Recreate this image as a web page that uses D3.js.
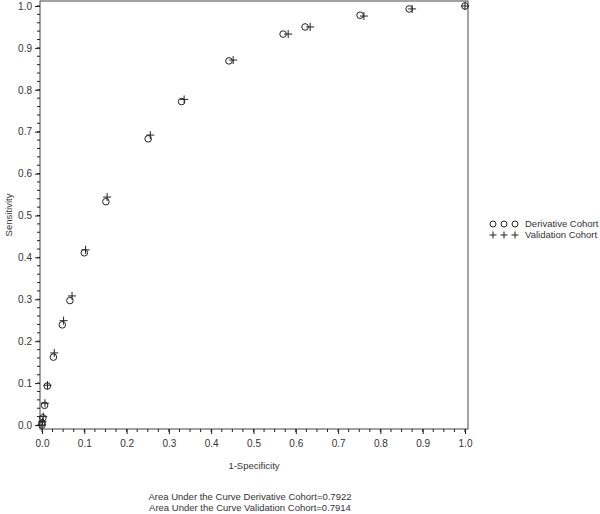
<!DOCTYPE html>
<html>
<head>
<meta charset="utf-8">
<script src="https://cdn.jsdelivr.net/npm/d3@7"></script>
<style>
  body { margin: 0; background: #fff; }
  svg { display: block; font-family: "Liberation Sans", Arial, sans-serif; }
</style>
</head>
<body>
<svg id="chart" width="600" height="514"></svg>
<script>
// ROC points
var derivX = [0, 0, 0.002, 0.006, 0.0125, 0.027, 0.048, 0.066, 0.100, 0.151, 0.251, 0.330, 0.442, 0.570, 0.622, 0.752, 0.868, 1.0];
var derivY = [0, 0.005, 0.017, 0.047, 0.093, 0.162, 0.239, 0.297, 0.411, 0.533, 0.683, 0.772, 0.869, 0.933, 0.950, 0.978, 0.993, 1.0];
var validX = [0, 0.001, 0.003, 0.007, 0.013, 0.029, 0.051, 0.071, 0.103, 0.154, 0.256, 0.336, 0.452, 0.582, 0.634, 0.761, 0.875, 1.0];
var validY = [0, 0.008, 0.020, 0.052, 0.095, 0.172, 0.249, 0.308, 0.418, 0.544, 0.692, 0.777, 0.871, 0.933, 0.950, 0.976, 0.993, 1.0];
var tickVals = [0, 0.1, 0.2, 0.3, 0.4, 0.5, 0.6, 0.7, 0.8, 0.9, 1.0];
var legendNames = ["Derivative Cohort", "Validation Cohort"];
var aucLines = ["Area Under the Curve Derivative Cohort=0.7922", "Area Under the Curve Validation Cohort=0.7914"];

var svg = d3.select("#chart");
var ink = "#222";

var frame = {left: 40, top: 1, right: 468, bottom: 429};
var xs = d3.scaleLinear().domain([0, 1]).range([42, 465]);
var ys = d3.scaleLinear().domain([0, 1]).range([425, 6]);

// frame box
svg.append("rect")
  .attr("x", frame.left).attr("y", frame.top)
  .attr("width", frame.right - frame.left).attr("height", frame.bottom - frame.top)
  .attr("fill", "none").attr("stroke", "#444").attr("stroke-width", 1);

// minor ticks
var yMinor = d3.range(0, 1.0001, 0.02);
var xMinor = d3.range(0, 1.0001, 0.025);
svg.append("g").selectAll("line").data(yMinor).enter().append("line")
  .attr("x1", frame.left - 3).attr("x2", frame.left)
  .attr("y1", function(d) { return ys(d); }).attr("y2", function(d) { return ys(d); })
  .attr("stroke", ink);
svg.append("g").selectAll("line").data(xMinor).enter().append("line")
  .attr("x1", function(d) { return xs(d); }).attr("x2", function(d) { return xs(d); })
  .attr("y1", frame.bottom).attr("y2", frame.bottom + 3)
  .attr("stroke", ink);

// y axis
var yAxis = svg.append("g")
  .attr("transform", "translate(" + frame.left + ",0)")
  .call(d3.axisLeft(ys).tickValues(tickVals).tickFormat(d3.format(".1f")).tickSize(5).tickPadding(3));
yAxis.select(".domain").remove();
// x axis
var xAxis = svg.append("g")
  .attr("transform", "translate(0," + frame.bottom + ")")
  .call(d3.axisBottom(xs).tickValues(tickVals).tickFormat(d3.format(".1f")).tickSize(5).tickPadding(6));
xAxis.select(".domain").remove();
svg.selectAll(".tick line").attr("stroke", ink);
svg.selectAll(".tick text").attr("fill", "#333").attr("font-size", "10px")
  .attr("font-family", "Liberation Sans, Arial, sans-serif");

// axis labels
svg.append("text")
  .attr("transform", "translate(9," + (frame.top + frame.bottom) / 2 + ") rotate(-90)")
  .attr("text-anchor", "middle").attr("dy", "0.35em")
  .attr("font-size", "9.5px").attr("fill", "#333")
  .text("Sensitivity");
svg.append("text")
  .attr("x", (frame.left + frame.right) / 2).attr("y", 469)
  .attr("text-anchor", "middle")
  .attr("font-size", "9.5px").attr("fill", "#333")
  .text("1-Specificity");

// derivative cohort: circles
var dData = derivX.map(function(x, i) { return {x: x, y: derivY[i]}; });
var vData = validX.map(function(x, i) { return {x: x, y: validY[i]}; });

svg.append("g").selectAll("circle").data(dData).enter().append("circle")
  .attr("cx", function(d) { return xs(d.x); })
  .attr("cy", function(d) { return ys(d.y); })
  .attr("r", 3.3)
  .attr("fill", "none").attr("stroke", ink).attr("stroke-width", 1);

// validation cohort: plus signs
var plus = d3.symbol().type(d3.symbolCross).size(0);
svg.append("g").selectAll("path").data(vData).enter().append("path")
  .attr("d", function(d) {
    var cx = xs(d.x), cy = ys(d.y), h = 4;
    return "M" + (cx - h) + "," + cy + "H" + (cx + h) + "M" + cx + "," + (cy - h) + "V" + (cy + h);
  })
  .attr("fill", "none").attr("stroke", ink).attr("stroke-width", 1);

// legend
var leg = svg.append("g");
[493, 504, 515].forEach(function(lx) {
  leg.append("circle").attr("cx", lx).attr("cy", 224).attr("r", 3)
    .attr("fill", "none").attr("stroke", ink);
  leg.append("path")
    .attr("d", "M" + (lx - 3.5) + ",235H" + (lx + 3.5) + "M" + lx + ",231.5V238.5")
    .attr("stroke", ink).attr("fill", "none");
});
leg.selectAll("text").data(legendNames).enter().append("text")
  .attr("x", 525).attr("y", function(d, i) { return 224 + i * 11; })
  .attr("dy", "0.35em")
  .attr("font-size", "9.5px").attr("fill", "#333")
  .text(function(d) { return d; });

// AUC notes
svg.append("g").selectAll("text").data(aucLines).enter().append("text")
  .attr("x", 250).attr("y", function(d, i) { return 500 + i * 11; })
  .attr("text-anchor", "middle")
  .attr("font-size", "9.5px").attr("fill", "#333")
  .text(function(d) { return d; });
</script>
</body>
</html>
